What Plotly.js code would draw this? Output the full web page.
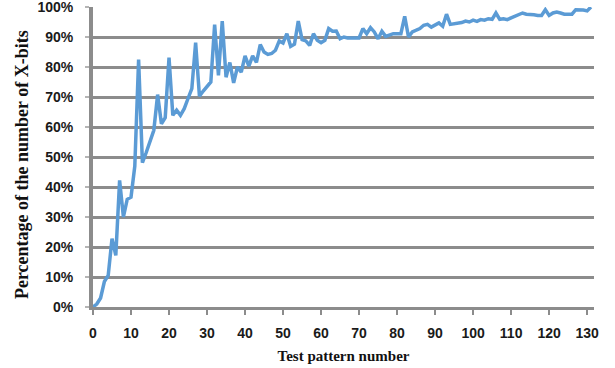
<!DOCTYPE html>
<html>
<head>
<meta charset="utf-8">
<script src="https://cdn.plot.ly/plotly-3.0.1.min.js"></script>
<style>html,body{margin:0;padding:0;background:#fff;}#chart{width:615px;height:368px;}</style>
</head>
<body>
<div id="chart"></div>
<script>
// Test pattern number (x) and percentage of the number of X-bits (y, %)
const patternNumbers = Array.from({length: 132}, (_, i) => i);
const xbitPercent = [
  0, 1, 3, 8.5, 10.5, 22.8, 17.2, 42.2, 30, 35.9,
  36.6, 47, 82.5, 48.1, 51.5, 55, 58.9, 70.8, 61.1, 63.1,
  83.1, 63.9, 65.6, 63.9, 66.1, 69.5, 72.8, 88.1, 70.3, 72,
  73.5, 75, 94.1, 77.2, 95.3, 76.6, 81.5, 74.7, 80, 78.3,
  83.7, 80.3, 83.7, 81.5, 87.5, 85, 84.2, 84.5, 85.6, 88.7,
  88, 91.1, 86.9, 87.6, 95.3, 89.1, 88.7, 87.2, 91.1, 88.9,
  88.1, 88.9, 92.8, 91.9, 92, 89.4, 90, 89.7, 89.7, 89.7,
  89.7, 92.8, 91.1, 93.1, 91.7, 89.4, 91.9, 90.2, 90.7, 91.1,
  91.1, 91.1, 96.9, 90, 91.7, 92.3, 92.8, 93.9, 94.2, 93.3,
  94, 94.7, 93.6, 97.6, 94.2, 94.4, 94.6, 94.8, 95.3, 95,
  95.6, 95.2, 95.8, 95.6, 96.1, 95.9, 98, 95.9, 96.1, 95.8,
  96.4, 96.9, 97.5, 98, 97.6, 97.6, 97.4, 97.2, 97.2, 99.1,
  97.2, 98, 98.3, 98, 97.6, 97.6, 97.6, 99.1, 99.1, 99,
  98.7, 100
];
const xTickVals = [0,10,20,30,40,50,60,70,80,90,100,110,120,130];
const yTickVals = [0,10,20,30,40,50,60,70,80,90,100];
const yTickText = yTickVals.map(v => v + '%');
const xTitle = 'Test pattern number';
const yTitle = 'Percentage of the number of X-bits';

const trace = {
  x: patternNumbers,
  y: xbitPercent,
  type: 'scatter',
  mode: 'lines',
  line: {color: '#5b9bd5', width: 3.5},
  hoverinfo: 'skip'
};

const tickFont = {family: 'Liberation Sans, Arial, sans-serif', size: 14, color: '#1a1a1a', weight: 'bold'};

const layout = {
  width: 615,
  height: 368,
  margin: {l: 93, r: 21, t: 7, b: 61},
  paper_bgcolor: '#ffffff',
  plot_bgcolor: '#ffffff',
  showlegend: false,
  xaxis: {
    range: [0, 131.8],
    tickvals: xTickVals,
    ticktext: xTickVals.map(String),
    showgrid: false,
    zeroline: false,
    showline: true,
    linecolor: '#8c8c8c',
    linewidth: 3,
    ticks: 'outside',
    ticklen: 5,
    tickwidth: 2,
    tickcolor: '#8c8c8c',
    tickfont: tickFont,
    ticklabelstandoff: 6,
    ticklabeloverflow: 'allow',
    title: {text: xTitle, font: {family: 'Liberation Serif, Times New Roman, serif', size: 15, color: '#111', weight: 'bold'}, standoff: 11}
  },
  yaxis: {
    range: [0, 100],
    tickvals: yTickVals,
    ticktext: yTickText,
    showgrid: true,
    gridcolor: '#8c8c8c',
    gridwidth: 3,
    zeroline: false,
    showline: true,
    linecolor: '#8c8c8c',
    linewidth: 4,
    ticks: 'outside',
    ticklen: 4,
    tickwidth: 2,
    tickcolor: '#b5b5b5',
    tickfont: tickFont,
    ticklabelstandoff: 9,
    ticklabeloverflow: 'allow'
  },
  annotations: [{
    text: yTitle,
    xref: 'paper', yref: 'paper',
    x: -0.1417, y: 0.473,
    xanchor: 'center', yanchor: 'middle',
    textangle: -90,
    showarrow: false,
    font: {family: 'Liberation Serif, Times New Roman, serif', size: 18, color: '#111', weight: 'bold'}
  }]
};

Plotly.newPlot('chart', [trace], layout, {displayModeBar: false, staticPlot: true});
</script>
</body>
</html>
